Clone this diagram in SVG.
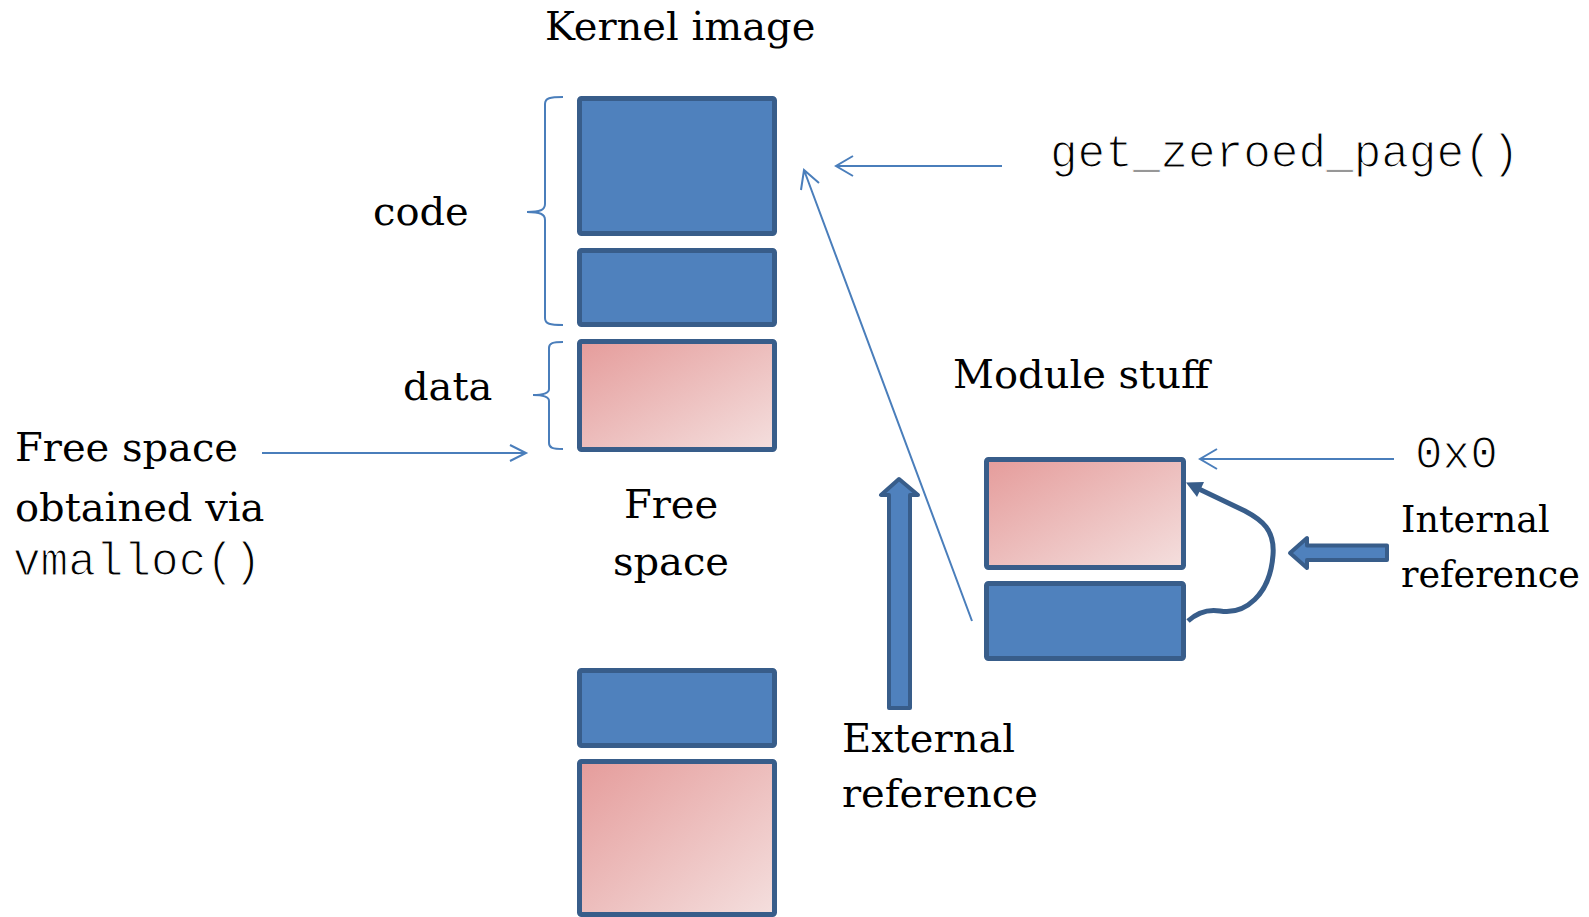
<svg xmlns="http://www.w3.org/2000/svg" width="1589" height="917" viewBox="0 0 1589 917">
<defs>
<linearGradient id="pink" x1="0" y1="0" x2="1" y2="1">
<stop offset="0" stop-color="#E59C9B"/>
<stop offset="1" stop-color="#F4DFDE"/>
</linearGradient>
<style>
.blue{fill:#4F81BD;stroke:#385D8A;stroke-width:5}
.pinkbox{fill:url(#pink);stroke:#385D8A;stroke-width:5}
.thin{fill:none;stroke:#4A7EBB;stroke-width:2}
.blk{fill:#4F81BD;stroke:#385D8A;stroke-width:4;stroke-linejoin:round}
.serif{font-family:"DejaVu Serif","Liberation Serif",serif;font-size:40px;fill:#000}
.small{font-size:36.5px}
.mono{font-family:"Liberation Mono","Courier New",monospace;font-size:46px;fill:#000;stroke:#fff;stroke-width:1.2}
</style>
</defs>
<rect width="1589" height="917" fill="#fff"/>
<g id="labels">
<text class="serif" x="545" y="40">Kernel image</text>
<text class="serif" x="373" y="225">code</text>
<text class="serif" x="403" y="400">data</text>
<text class="serif" x="15" y="461">Free space</text>
<text class="serif" x="15" y="521">obtained via</text>
<text class="mono" x="13" y="575">vmalloc()</text>
<text class="serif" x="671" y="518" text-anchor="middle">Free</text>
<text class="serif" x="671" y="575" text-anchor="middle">space</text>
<text class="serif" x="953" y="388">Module stuff</text>
<text class="mono" x="1050" y="167">get_zeroed_page()</text>
<text class="mono" x="1415" y="468">0x0</text>
<text class="serif small" x="1401" y="532">Internal</text>
<text class="serif small" x="1401" y="587">reference</text>
<text class="serif" x="842" y="752">External</text>
<text class="serif" x="842" y="807">reference</text>
</g>
<g id="kernel-code-1"><rect class="blue" x="579.5" y="98.5" width="195" height="135" rx="2"/></g>
<g id="kernel-code-2"><rect class="blue" x="579.5" y="250.5" width="195" height="74" rx="2"/></g>
<g id="kernel-data"><rect class="pinkbox" x="579.5" y="341.5" width="195" height="108" rx="2"/></g>
<g id="vmalloc-code"><rect class="blue" x="579.5" y="670.5" width="195" height="75" rx="2"/></g>
<g id="vmalloc-data"><rect class="pinkbox" x="579.5" y="761.5" width="195" height="153" rx="2"/></g>
<g id="module-data"><rect class="pinkbox" x="986.5" y="459.5" width="197" height="108" rx="2"/></g>
<g id="module-code"><rect class="blue" x="986.5" y="583.5" width="197" height="75" rx="2"/></g>
<g id="braces" class="thin">
<path d="M563,97 C550,97 545,98 545,104 L545,204 C545,210 540,212 527,212 C540,212 545,214 545,220 L545,318 C545,324 550,325 563,325"/>
<path d="M563,342 C553,342 549,343 549,348 L549,389 C549,393 545,395 533,395 C545,395 549,397 549,401 L549,443 C549,448 553,449 563,449"/>
</g>
<g id="connectors">
<g class="thin">
<path d="M1002,166 L836,166 M853,156 L836,166 L853,176"/>
<path d="M972,621 L804,170 M801,190 L804,170 L819,183"/>
<path d="M262,453 L526,453 M510,445 L526,453 L510,461"/>
<path d="M1394,459 L1200,459 M1217,449 L1200,459 L1217,469"/>
</g>
<polygon class="blk" points="899,479 881,495 889,495 889,708 910,708 910,495 918,495"/>
<polygon class="blk" points="1290,553 1307,538 1307,545.5 1387,545.5 1387,560 1307,560 1307,568"/>
<path d="M1188,621 C1198,612 1208,609 1220,611 C1245,615 1270,595 1273,555 C1275,530 1262,520 1245,511 L1200,489.5" fill="none" stroke="#385D8A" stroke-width="5"/>
<polygon points="1186,482.5 1204,482 1197,497" fill="#385D8A"/>
</g>
</svg>
